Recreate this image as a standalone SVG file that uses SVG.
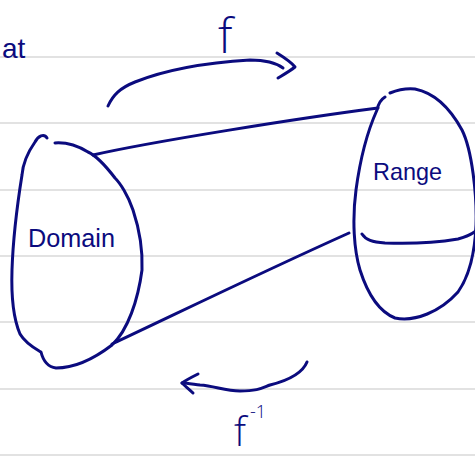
<svg xmlns="http://www.w3.org/2000/svg" width="475" height="459" viewBox="0 0 475 459">
<style>
.rule{stroke:#e2e2e2;stroke-width:2;fill:none}
.pen{stroke:#0b0b7e;stroke-width:3;fill:none;stroke-linecap:round;stroke-linejoin:round}
.hand{fill:#0b0b7e;font-family:"Liberation Sans","DejaVu Sans",sans-serif}
.big{fill:#0b0b7e;font-family:"Open Sans","Liberation Sans",sans-serif;font-weight:300}
</style>
<rect width="475" height="459" fill="#ffffff"/>
<g id="paper">
<line class="rule" x1="0" y1="57" x2="475" y2="57"/>
<line class="rule" x1="0" y1="123" x2="475" y2="123"/>
<line class="rule" x1="0" y1="190" x2="475" y2="190"/>
<line class="rule" x1="0" y1="256" x2="475" y2="256"/>
<line class="rule" x1="0" y1="322" x2="475" y2="322"/>
<line class="rule" x1="0" y1="389" x2="475" y2="389"/>
<line class="rule" x1="0" y1="455" x2="475" y2="455"/>
</g>
<g id="note">
<text class="hand" x="2" y="58" font-size="28">at</text>
</g>
<g id="domain">
<path class="pen" d="M47,138 C44,133 38,136 35,142 C28,152 23,162 22,175 C18,200 13,240 12,270 C11,300 14,320 20,334 C26,344 36,349 41,352 C43,360 48,367 56,368 C75,368 95,358 112,345 C128,330 138,300 142,270 C143,245 138,225 133,210 C128,195 120,183 115,178 C105,165 95,155 88,152 C78,146 68,142 55,143"/>
<text class="hand" x="28" y="247" font-size="25" textLength="87" lengthAdjust="spacingAndGlyphs">Domain</text>
</g>
<g id="range">
<path class="pen" d="M385,97 C380,100 378,105 377,110 C368,130 360,160 356,190 C352,220 354,250 360,270 C368,295 380,312 395,318 C415,322 440,312 458,292 C470,275 475,250 476,225 C477,195 472,150 462,130 C450,108 435,93 415,89 C405,88 395,91 390,93"/>
<path class="pen" d="M362,234 C366,240 372,242 385,243 C410,244 440,242 458,239 C466,237 472,234 476,231"/>
<text class="hand" x="373" y="180" font-size="24" textLength="69" lengthAdjust="spacingAndGlyphs">Range</text>
</g>
<g id="f-label">
<text class="big" x="218" y="53" font-size="48">f</text>
</g>
<g id="finv-label">
<text class="big" x="234" y="446" font-size="40">f<tspan font-size="18" dx="4" dy="-28">-1</tspan></text>
</g>
<g id="connectors">
<path class="pen" d="M93,155 C150,142 300,118 378,108"/>
<path class="pen" d="M112,344 C180,312 260,273 349,233"/>
<path class="pen" d="M108,106 C113,95 120,88 135,82 C160,72 200,63 250,60 C265,60 275,62 283,68"/>
<path class="pen" d="M277,53 C285,58 292,63 295,67 C290,71 283,75 278,78"/>
<path class="pen" d="M307,362 C303,372 290,380 270,385 C262,388 258,391 240,391 C225,391 215,386 200,385 C192,384 186,383 182,383"/>
<path class="pen" d="M198,374 C192,377 186,380 182,383 C185,386 189,389 193,393"/>
</g>
</svg>
